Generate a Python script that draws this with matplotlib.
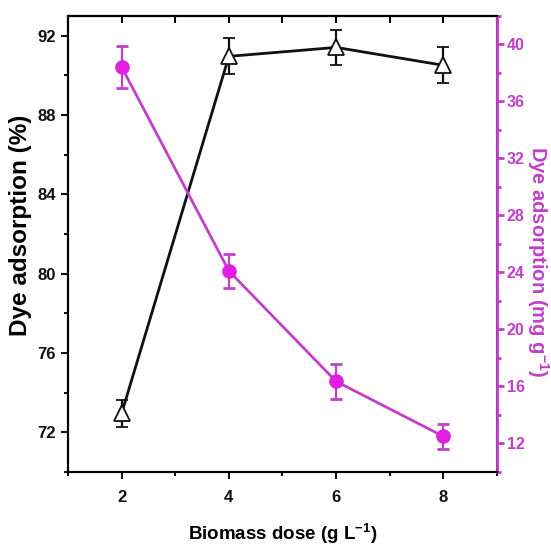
import matplotlib
matplotlib.use("Agg")
import matplotlib.pyplot as plt
from matplotlib.ticker import MultipleLocator

plt.rcParams['font.family'] = ['Liberation Sans', 'DejaVu Sans']
plt.rcParams['font.weight'] = 'bold'
plt.rcParams['mathtext.fontset'] = 'custom'
plt.rcParams['mathtext.rm'] = 'Liberation Sans:bold'
plt.rcParams['mathtext.bf'] = 'Liberation Sans:bold'
plt.rcParams['mathtext.default'] = 'bf'

dose = [2, 4, 6, 8]
removal_pct = [72.95, 90.95, 91.4, 90.5]
removal_pct_err = [0.7, 0.9, 0.9, 0.9]
uptake = [38.4, 24.1, 16.35, 12.5]
uptake_err = [1.5, 1.2, 1.2, 0.9]

black = '#111111'
magenta = '#e21ee2'
magenta_axis = '#c040c8'

fig = plt.figure(figsize=(5.51, 5.48), dpi=100)
ax = fig.add_axes([0.1234, 0.1387, 0.7786, 0.8327])
ax2 = ax.twinx()

# percent removal (left axis)
ax.errorbar(dose, removal_pct, yerr=removal_pct_err, color=black, lw=2,
            marker='^', ms=11, mfc='white', mec=black, mew=1.3,
            ecolor=black, elinewidth=1.6, capsize=4.5, capthick=2, zorder=3)

# uptake (right axis)
ax2.errorbar(dose, uptake, yerr=uptake_err, color=magenta_axis, lw=2,
             marker='o', ms=9.5, mfc=magenta, mec=magenta,
             ecolor=magenta_axis, elinewidth=1.6, capsize=4.5, capthick=2)

ax.set_xlim(1, 9)
ax.set_ylim(70, 93)
ax2.set_ylim(10, 42)

ax.xaxis.set_major_locator(MultipleLocator(2))
ax.xaxis.set_minor_locator(MultipleLocator(1))
ax.yaxis.set_major_locator(MultipleLocator(4))
ax.yaxis.set_minor_locator(MultipleLocator(2))
ax2.yaxis.set_major_locator(MultipleLocator(4))
ax2.yaxis.set_minor_locator(MultipleLocator(2))

for sp in ax.spines.values():
    sp.set_linewidth(1.5)
    sp.set_color(black)
for sp in ax2.spines.values():
    sp.set_linewidth(1.5)
ax2.spines['right'].set_color(magenta_axis)
ax2.spines['right'].set_linewidth(2)

ax.tick_params(axis='both', which='major', length=5, width=1.5, labelsize=12, colors=black)
ax.tick_params(axis='both', which='minor', length=3, width=1.5, colors=black)
ax.tick_params(axis='x', which='both', direction='out', top=False, pad=8)
ax.tick_params(axis='y', which='both', direction='out')

# inward ticks along the top spine
ax_top = ax.secondary_xaxis('top')
ax_top.xaxis.set_major_locator(MultipleLocator(2))
ax_top.xaxis.set_minor_locator(MultipleLocator(1))
ax_top.tick_params(which='both', direction='in', length=5, width=1.5, labeltop=False)
ax_top.spines['top'].set_linewidth(1.5)

ax2.tick_params(axis='y', which='major', length=5, width=2, labelsize=11.5, pad=2,
                colors=magenta_axis, labelcolor=magenta_axis)
ax2.tick_params(axis='y', which='minor', length=3, width=2, colors=magenta_axis)

ax.set_xlabel('Biomass dose (g L$^{-1}$)', fontsize=13.5, fontweight='bold', labelpad=12)
ax.set_ylabel('Dye adsorption (%)', fontsize=17.5, fontweight='bold')
ax.yaxis.set_label_coords(-0.084, 0.54)

fig.text(0.977, 0.522, 'Dye adsorption (mg g$^{-1}$)', fontsize=14.5, fontweight='bold',
         color=magenta_axis, rotation=270, ha='center', va='center')

fig.savefig('out.png', dpi=100)
